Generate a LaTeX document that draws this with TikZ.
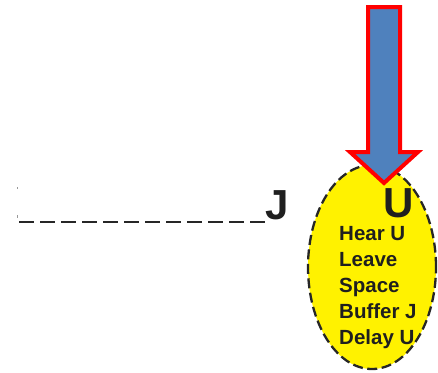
\documentclass[tikz,border=0pt]{standalone}
\usepackage{fontspec}
\setsansfont{Liberation Sans}
\usetikzlibrary{shapes.geometric, positioning}
\definecolor{azulseta}{RGB}{79,129,189}
\tikzset{
  bolha/.style = {ellipse, draw=black!85, fill=yellow, line width=2.3pt,
    dash pattern=on 10pt off 4.5pt, minimum width=128pt, minimum height=204pt,
    inner sep=0pt},
  letra/.style = {font=\sffamily\bfseries\fontsize{42}{42}\selectfont,
    inner sep=0pt, text=black!88},
  lista/.style = {font=\sffamily\bfseries\fontsize{20.5}{26}\selectfont,
    align=left, inner sep=0pt, text=black!88},
  trilha/.style = {draw=black!85, line width=2.6pt, dash pattern=on 15pt off 6pt},
  borda/.style = {draw=black!40, line width=1pt, dash pattern=on 2pt off 26pt on 4pt},
  seta/.style = {draw=red, fill=azulseta, line width=4pt, line join=miter}
}

\begin{document}
\begin{tikzpicture}[x=1pt, y=-1pt]
  \useasboundingbox (0,0) rectangle (438,372);
  % balao com a lista
  \node [bolha] (b) at (372,267) {};
  \node [lista, anchor=north west] (l) at (339,226)
    {Hear U\\ Leave\\ Space\\ Buffer J\\ Delay U};
  \node [letra, anchor=base west] (u) at (383,217) {U};

  % trilha tracejada ate o J
  \node [letra, anchor=base west] (j) at (265,219) {J};
  \coordinate (c0) at (17,187);
  \coordinate (c1) at (17,218);
  \coordinate (c2) at (19,222);
  \draw [borda] (c0) -- (c1);
  \draw [trilha] (c2) -- (c2 -| j.west);

  % seta grossa descendo
  \coordinate (p) at (384,183);
  \draw [seta] (368,7) -- (400,7) -- (400,152) -- (418,152) -- (p)
    -- (350,152) -- (368,152) -- cycle;
\end{tikzpicture}
\end{document}
